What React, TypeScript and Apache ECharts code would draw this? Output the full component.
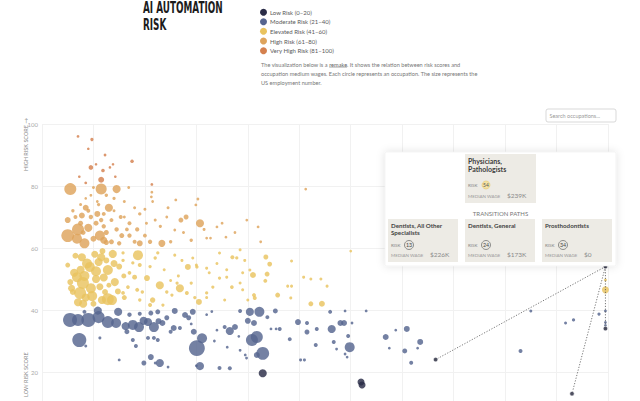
import React, { useEffect, useRef } from "react";
import * as echarts from "echarts";

// ---------- data ----------
const riskBands = ["Low Risk (0–20)", "Moderate Risk (21–40)", "Elevated Risk (41–60)", "High Risk (61–80)", "Very High Risk (81–100)"];
const bandColors = ["#2a2c47", "#56658f", "#e9c35f", "#dea45c", "#d4804e"];
const yTicks = [0, 20, 40, 60, 80, 100];
const xRange = [20, 240];

// [median wage (K$), risk score, US employment (thousands)]
const veryHigh: [number, number, number][] = [
  [34, 96, 3], [39.4, 95, 8], [38, 92, 2], [44.5, 90, 3], [55, 88, 12], [41, 87, 2], [39, 86, 35], [43.7, 85, 15],
  [47.6, 87, 2], [46.4, 86, 2], [34.5, 83, 2], [43, 82, 80], [48.5, 83, 2], [37, 81, 3], [62.7, 80.5, 3],
];
const high: [number, number, number][] = [
  [31, 79, 520], [43, 79, 420], [49, 79, 190], [53.7, 79.5, 4], [62.7, 78, 3], [62.5, 76.5, 3], [39, 77, 3], [41.5, 75, 3],
  [37, 76, 2], [37, 73, 80], [46, 73, 190], [48, 72, 4], [52, 70, 4], [30, 69, 80], [34, 66, 520], [30, 64, 600],
  [42.5, 64, 330], [36.5, 61.5, 330], [33.6, 63, 330], [44, 67, 30], [47, 69, 20], [50.6, 70, 20], [54, 68, 20], [57, 66, 25],
  [54, 64, 30], [60.6, 68, 5], [64, 69, 5], [58, 61.5, 80], [66.6, 61.5, 130], [74, 69, 45], [76, 70, 45], [81.4, 68, 190],
  [80.6, 75.8, 3], [79.8, 73.9, 3], [68.5, 70, 3], [71.6, 65.8, 3], [88, 66.8, 3], [90, 68, 3], [91.5, 63.5, 3], [99.6, 69, 3],
  [84, 63.2, 3], [85.5, 63.2, 3], [33, 70, 20], [35, 68, 45], [39, 70, 30], [41, 68, 45], [44, 71, 20], [45, 65, 45],
  [49, 66, 30], [51, 64, 45], [40, 63, 80], [47, 62, 45], [50, 61.5, 30], [38, 72, 20], [42, 74, 10], [45, 77, 10],
  [35, 74, 5], [52, 75, 5], [56, 73, 5], [48, 76, 8], [40, 79.5, 5], [58, 71, 10], [60, 64, 20], [62, 62, 30],
  [56, 62, 20], [53, 66, 15], [45, 61.8, 50], [32, 72, 10], [36, 65, 40], [43, 69, 30], [69, 73, 5], [72, 75.5, 3],
  [63, 75, 3], [66, 67, 8], [75, 65, 5], [78, 62.5, 10], [83, 66, 5], [70, 62, 10], [95, 65, 3], [105, 62, 3],
  [60, 72.5, 5], [104, 66.8, 3], [122.5, 79, 3], [38, 66.5, 190], [44, 62.5, 130], [35.5, 70.5, 80], [41.5, 71, 80],
];
const elevated: [number, number, number][] = [
  [33.6, 50.6, 330], [35.9, 48.7, 520], [34.8, 45.5, 520], [32, 45.8, 80], [38.6, 53.9, 330], [35.5, 57, 190], [30, 54.5, 45],
  [42, 55.5, 190], [47.5, 58.1, 190], [45.6, 52.9, 330], [48.3, 49, 190], [44.5, 45.8, 80], [47.2, 43.2, 330], [43.3, 43.2, 190],
  [45.6, 43.5, 520], [57.3, 57.7, 330], [60.8, 50.3, 80], [65.8, 48, 190], [73.6, 47, 190], [76.7, 53.9, 80], [81, 42.6, 80],
  [63, 43.2, 60], [94, 57, 20], [102, 51.3, 80], [98, 46.5, 5], [97, 48.7, 5], [67.5, 53, 5], [70, 49.5, 5], [73, 51, 5],
  [84, 44, 5], [51.5, 56, 10], [54, 52, 15], [56, 50.6, 40], [58, 54.5, 20], [62, 54, 10], [64, 56.8, 10], [65, 58.4, 8],
  [53.4, 47.4, 15], [51.5, 45.5, 15], [57, 46.5, 20], [59, 45.8, 10], [58, 43.2, 10], [62, 41.6, 20], [67, 41.6, 8],
  [68.5, 45.8, 10], [70.5, 44.8, 8], [72.5, 48.7, 8], [76.3, 45.5, 20], [78, 48.7, 8], [79.4, 44, 10], [84, 45.5, 8],
  [86.4, 47.4, 8], [89, 50.3, 8], [85, 52, 5], [88, 55, 5], [80, 54.5, 5], [84, 53.5, 5], [91.8, 53, 5], [91, 43.2, 5],
  [93.8, 47.4, 15], [98, 52, 5], [100, 43.2, 5], [95.7, 56.8, 8], [51.5, 58.4, 8], [55.3, 55.2, 8], [71.6, 57.7, 5],
  [74.4, 56, 5], [78.6, 56.8, 5], [80.2, 53.9, 10], [89, 58.4, 5], [97, 59.4, 5], [98.8, 56, 5], [100.8, 52.9, 5],
  [91.8, 50.6, 5], [140, 59, 3], [107, 57.1, 45], [108.5, 54.8, 40], [107.5, 51.6, 45], [106.8, 49.4, 20], [117, 55.8, 5],
  [121.7, 50.6, 5], [124.5, 50, 5], [128.4, 50, 5], [115.5, 47.7, 5], [117, 47.7, 5], [130.8, 47.7, 5], [111.6, 44.8, 45],
  [116.7, 43.9, 5], [124.5, 42, 45], [128.8, 42, 80], [102.4, 44.8, 20], [102.7, 43.9, 20], [31, 49, 80], [32.5, 52, 190],
  [36.5, 51, 330], [39, 47, 330], [41, 50, 190], [37, 44, 190], [40, 42, 80], [34, 42.5, 190], [33, 57.5, 80],
  [40.5, 58, 130], [43.5, 59, 80], [45, 56, 80], [50, 54, 80], [49.5, 46, 80], [52, 44, 45], [51.8, 51, 45], [46, 48, 45],
  [42.5, 47.5, 130], [239, 49.7, 5], [239, 46.5, 130],
  [37.5, 55, 330], [41, 52.5, 330], [35, 53, 190], [39.5, 44.5, 330], [44, 50.5, 190], [31.5, 47, 130], [36, 42, 190],
  [43, 57, 190], [48, 55, 130],
];
const moderate: [number, number, number][] = [
  [30.9, 36.8, 750], [34, 36.8, 520], [38, 36.8, 750], [42, 37.7, 520], [45.6, 36.1, 520], [48.8, 35.8, 330], [49.6, 39.4, 190],
  [41.7, 39.8, 190], [34.5, 30.3, 750], [36.5, 39.4, 20], [42.5, 31, 5], [37, 28.4, 5], [50, 23.9, 4],
  [55.3, 35.2, 330], [57.7, 34.5, 330], [61.2, 36.1, 190], [63.5, 34.5, 330], [65.3, 36.4, 80], [66.8, 35.8, 80], [62.3, 39, 45],
  [65, 39.4, 45], [71.6, 39.7, 80], [71.2, 34.2, 80], [52.5, 34.8, 190], [59.5, 36.5, 190], [68.5, 37.5, 45], [70, 33, 20],
  [54, 38.5, 30], [58, 38.8, 20], [53, 33, 45], [63.5, 31, 20], [65, 30.3, 20], [61.2, 31, 20], [55.3, 30.3, 20],
  [56.5, 28.4, 20], [62.3, 24.8, 80], [59.6, 22.9, 45], [65.8, 22.9, 190], [64, 22.9, 3], [69, 21.6, 3],
  [73.6, 34.2, 20], [75.6, 38.4, 80], [77, 37.5, 45], [78.6, 39.4, 80], [79, 33, 80], [78, 35.5, 3], [80.2, 27.7, 1000],
  [82.2, 30.9, 330], [81.4, 21.9, 190], [80, 22, 3], [84, 38.5, 3], [86, 39.5, 3], [88, 33.5, 3], [87, 30, 3], [89, 21.3, 20],
  [93, 21.2, 20], [91, 34.5, 20], [93, 33.2, 190], [95, 34.5, 80], [92, 28, 3], [96.5, 31.5, 3], [97, 39.7, 20], [97, 27, 3],
  [99, 25.5, 3], [100.8, 39.4, 190], [100, 36.5, 80], [101.6, 30.3, 520], [103.5, 31.3, 520], [103.5, 25.5, 80], [99.5, 24.5, 3],
  [104.5, 39.4, 330], [110.7, 39.7, 45], [107.6, 37.7, 20], [102.4, 35.8, 80], [119.5, 36.1, 80], [132, 39.4, 20],
  [137.8, 39.7, 3], [146, 39.7, 3], [123, 35.8, 20], [112.4, 33.9, 20], [109, 33.9, 3], [111, 33.9, 3], [123, 32.9, 45],
  [126.8, 33.9, 20], [132.6, 33.9, 190], [136, 35.8, 80], [137.4, 35.8, 80], [140.5, 35.8, 3], [139, 31.6, 20],
  [116.3, 30.6, 20], [126.4, 28.7, 20], [133.4, 29.7, 20], [139.6, 28, 330], [137.8, 25.8, 3], [138.6, 24.8, 3],
  [134.5, 27.4, 3], [105.8, 26, 600], [120.5, 23.9, 5], [122, 23.9, 5], [153.6, 31.3, 80], [155, 27.7, 3], [157.5, 33.5, 3],
  [161.8, 33.9, 80], [161, 26.8, 45], [166, 27.7, 3], [167, 29.7, 80], [163.5, 23, 20], [210, 39.7, 5], [206, 26.8, 20],
  [223.5, 35.8, 5], [226.6, 36.8, 8], [236.5, 38.7, 8], [239, 39.7, 3], [239, 36, 3], [239, 35, 3],
];
const low: [number, number, number][] = [
  [105.8, 19.6, 190], [144, 16.8, 130], [144.4, 15.8, 130],
];

// selected occupation and its transition paths
const focusName = ["Physicians,", "Pathologists"];
const focusWage = 239;
const focusRisk = 54;
const focusWageLabel = "$239K";
const pathNames = [["Dentists, All Other", "Specialists"], ["Dentists, General"], ["Prosthodontists"]];
const pathWages = [226, 173, 239];
const pathRisks = [13, 24, 34];
const pathWageLabels = ["$226K", "$173K", "$0"];

const bandOf = (r: number) => (r <= 20 ? 0 : r <= 40 ? 1 : r <= 60 ? 2 : r <= 80 ? 3 : 4);
const sizeOf = (emp: number) => 2 + Math.sqrt(emp) * 0.44;

const FONT = "Lato";

function measure(text: string, size: number, weight = "normal") {
  const ctx = document.createElement("canvas").getContext("2d")!;
  ctx.font = `${weight} ${size}px ${FONT}`;
  return ctx.measureText(text).width;
}

export default function App() {
  const ref = useRef<HTMLDivElement>(null);
  useEffect(() => {
    document.body.style.margin = "0";
    document.body.style.background = "#fff";
    const chart = echarts.init(ref.current!, undefined, { renderer: "svg" });

    const all = [...low, ...moderate, ...elevated, ...high, ...veryHigh].slice().sort((a, b) => b[2] - a[2]);

    const g: any[] = [];
    const txt = (x: number, y: number, text: string, size: number, fill: string, extra: any = {}, z = 10) => ({
      type: "text", x, y, z, silent: true,
      style: { text, fontSize: size, fontFamily: FONT, fill, verticalAlign: "middle", align: "left", ...extra },
    });

    // Title
    g.push({ type: "text", x: 143, y: 1, scaleX: 0.59, z: 10, style: { text: "AI AUTOMATION", fontSize: 15, fontWeight: "bold", fontFamily: "DejaVu Sans", fill: "#1c1c1c", verticalAlign: "top" } });
    g.push({ type: "text", x: 143, y: 18, scaleX: 0.59, z: 10, style: { text: "RISK", fontSize: 15, fontWeight: "bold", fontFamily: "DejaVu Sans", fill: "#1c1c1c", verticalAlign: "top" } });

    // Legend
    const legY = [12.3, 21.7, 31.3, 41, 50.7];
    riskBands.forEach((b, i) => {
      g.push({ type: "circle", z: 10, shape: { cx: 263.5, cy: legY[i], r: 3.5 }, style: { fill: bandColors[i] } });
      g.push(txt(270, legY[i], b, 6, "#5a5a5a"));
    });

    // Description
    const dSize = 5.6;
    const l1a = "The visualization below is a ";
    const l1b = "remake";
    const l1c = ". It shows the relation between risk scores and";
    const wa = measure(l1a, dSize);
    const wb = measure(l1b, dSize);
    g.push(txt(261, 64, l1a, dSize, "#777"));
    g.push(txt(261 + wa, 64, l1b, dSize, "#666"));
    g.push({ type: "line", z: 10, shape: { x1: 261 + wa, y1: 67.2, x2: 261 + wa + wb, y2: 67.2 }, style: { stroke: "#777", lineWidth: 0.5 } });
    g.push(txt(261 + wa + wb, 64, l1c, dSize, "#777"));
    g.push(txt(261, 73.2, "occupation medium wages. Each circle represents an occupation. The size represents the", dSize, "#777"));
    g.push(txt(261, 82.5, "US employment number.", dSize, "#777"));

    // Search box
    g.push({ type: "rect", z: 10, shape: { x: 546, y: 109, width: 70, height: 13, r: 2 }, style: { fill: "#fff", stroke: "#cfcfcf", lineWidth: 0.8 } });
    g.push(txt(549.5, 115.5, "Search occupations...", 5.5, "#9a9a9a"));

    // Axis names
    g.push({ type: "text", x: 26, y: 171, rotation: Math.PI / 2, z: 10, style: { text: "HIGH RISK SCORE →", fontSize: 5.5, fontFamily: FONT, fill: "#888", verticalAlign: "middle", align: "left" } });
    g.push({ type: "text", x: 26, y: 397, rotation: Math.PI / 2, z: 10, style: { text: "LOW RISK SCORE", fontSize: 5.5, fontFamily: FONT, fill: "#888", verticalAlign: "middle", align: "left" } });

    // Panel
    const Z = 100;
    const cardFill = "#edebe5";
    g.push({ type: "rect", z: Z, shape: { x: 385, y: 152, width: 231, height: 114, r: 1 }, style: { fill: "#fff", stroke: "#ececec", lineWidth: 0.6, shadowBlur: 8, shadowColor: "rgba(0,0,0,0.12)" } });
    g.push({ type: "rect", z: Z, shape: { x: 465, y: 154, width: 71, height: 49 }, style: { fill: cardFill } });
    g.push(txt(468, 161, focusName[0], 7, "#3d3d3d", { fontWeight: "bold" }, Z + 1));
    g.push(txt(468, 169, focusName[1], 7, "#3d3d3d", { fontWeight: "bold" }, Z + 1));
    g.push(txt(468, 185, "RISK", 4.5, "#888", {}, Z + 1));
    g.push({ type: "circle", z: Z + 1, shape: { cx: 486, cy: 185, r: 4 }, style: { fill: "#f4e2a4", stroke: "#e6c86a", lineWidth: 0.6 } });
    g.push(txt(486, 185.2, String(focusRisk), 5, "#555", { align: "center" }, Z + 2));
    g.push(txt(468, 196, "MEDIAN WAGE", 4.5, "#999", {}, Z + 1));
    g.push(txt(507, 195.6, focusWageLabel, 6.5, "#8a8a8a", {}, Z + 1));
    g.push(txt(500.5, 213, "TRANSITION PATHS", 6, "#777", { align: "center" }, Z + 1));

    const cardX = [388, 465, 542];
    pathNames.forEach((nm, i) => {
      const x = cardX[i];
      g.push({ type: "rect", z: Z, shape: { x, y: 219, width: 70, height: 43 }, style: { fill: cardFill } });
      nm.forEach((line, j) => g.push(txt(x + 3, 225 + j * 7, line, 6.2, "#444", { fontWeight: "bold" }, Z + 1)));
      g.push(txt(x + 3, 245, "RISK", 4.5, "#888", {}, Z + 1));
      g.push({ type: "circle", z: Z + 1, shape: { cx: x + 21, cy: 245, r: 4.5 }, style: { fill: "#e9e7e1", stroke: "#666", lineWidth: 0.7 } });
      g.push(txt(x + 21, 245.2, String(pathRisks[i]), 5.3, "#444", { align: "center" }, Z + 2));
      g.push(txt(x + 3, 255, "MEDIAN WAGE", 4.5, "#999", {}, Z + 1));
      g.push(txt(x + 42, 254.6, pathWageLabels[i], 6.5, "#8a8a8a", {}, Z + 1));
    });

    const pathSeries = pathWages.map((w, i) => ({
      type: "line",
      data: [[focusWage, focusRisk], [w, pathRisks[i]]],
      symbol: "none",
      silent: true,
      z: 5,
      lineStyle: { color: "#555", width: 0.8, type: [1.2, 1.6] },
    }));

    chart.setOption({
      animation: false,
      backgroundColor: "#fff",
      grid: { left: 42, right: 32, top: 124, bottom: 36 },
      xAxis: {
        type: "value", min: xRange[0], max: xRange[1], interval: 20,
        axisLine: { show: false }, axisTick: { show: false }, axisLabel: { show: false },
        splitLine: { lineStyle: { color: "#f1f1f1", width: 1 } },
      },
      yAxis: {
        type: "value", min: yTicks[0], max: yTicks[yTicks.length - 1], interval: 20,
        axisLine: { show: false }, axisTick: { show: false },
        axisLabel: { fontSize: 6, color: "#aaa", margin: 4, fontFamily: FONT, formatter: (v: number) => (v === 0 ? "" : String(v)) },
        splitLine: { lineStyle: { color: "#f1f1f1", width: 1 } },
      },
      series: [
        {
          type: "scatter",
          data: all,
          symbolSize: (v: number[]) => sizeOf(v[2]),
          itemStyle: {
            color: (p: any) => bandColors[bandOf(p.value[1])],
            opacity: 0.82,
          },
          z: 2,
        },
        ...pathSeries,
        {
          type: "scatter",
          z: 6,
          data: [[focusWage, focusRisk], ...pathWages.map((w, i) => [w, pathRisks[i]])],
          symbolSize: 4.5,
          itemStyle: { color: "#23253a", borderColor: "#fff", borderWidth: 0.8 },
        },
      ],
      graphic: g,
    });
    return () => chart.dispose();
  }, []);

  return (
    <div style={{ width: 640, height: 401, overflow: "hidden", position: "relative", background: "#fff" }}>
      <div ref={ref} style={{ width: 640, height: 470 }} />
    </div>
  );
}
